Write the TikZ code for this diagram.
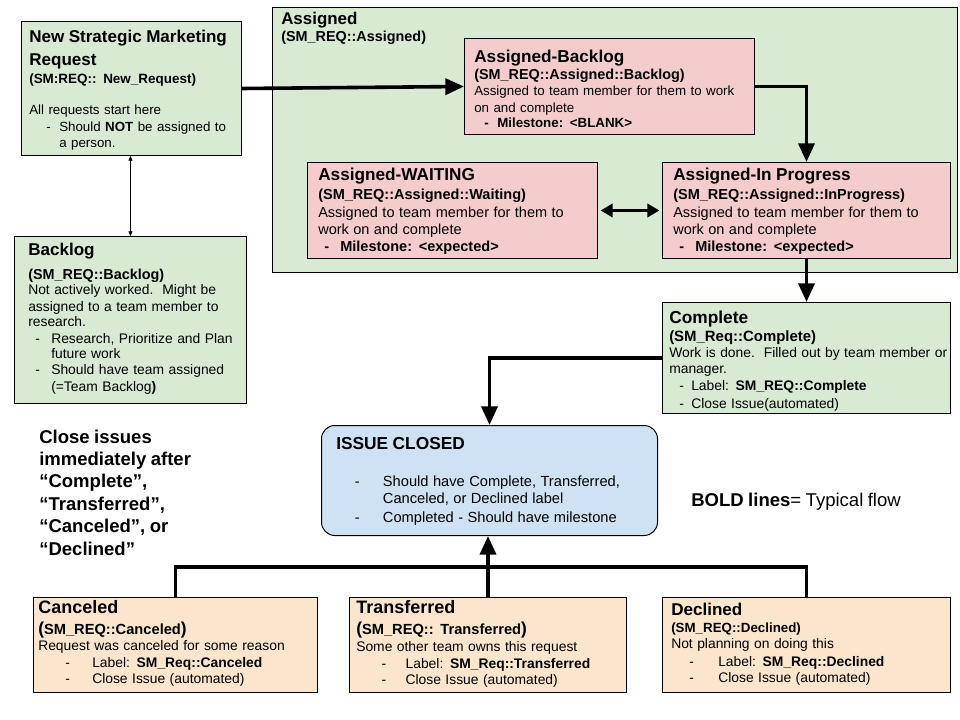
\documentclass[tikz,border=0pt]{standalone}
\usepackage{fontspec}
\setmainfont{Liberation Sans}
\usetikzlibrary{arrows.meta}
\definecolor{gfill}{HTML}{D9EAD3}
\definecolor{rfill}{HTML}{F4CCCC}
\definecolor{bfill}{HTML}{CFE2F3}
\definecolor{ofill}{HTML}{FCE5CD}
\newcommand\txl[3]{{\fontsize{#1}{#2}\selectfont #3\par}}
\newcommand\dashln[3]{\makebox[#2][l]{\hspace*{#1}-}#3}
\newcommand\bigpar[1]{{\fontsize{13}{13}\selectfont #1}}
\begin{document}
\begin{tikzpicture}[x=0.75pt,y=-0.75pt,
  boxshape/.style={draw=black, line width=0.75pt, rectangle, inner sep=0pt, anchor=north west},
  gbox/.style={boxshape, fill=gfill},
  rbox/.style={boxshape, fill=rfill},
  obox/.style={boxshape, fill=ofill},
  cbox/.style={boxshape, fill=bfill, rounded corners=10pt},
  txt/.style={anchor=base west, inner sep=0pt, text width=#1, align=left},
  flow/.style={line width=2.7pt, -{Triangle[length=14pt,width=12pt]}},
  flowline/.style={line width=2.7pt},
  dflow/.style={line width=1.9pt, {Triangle[length=9pt,width=10pt]}-{Triangle[length=9pt,width=10pt]}, shorten <=2pt, shorten >=2pt},
  thinarrow/.style={line width=0.6pt, {Triangle[length=3.5pt,width=3pt]}-{Triangle[length=3.5pt,width=3pt]}}
]
\fill[white] (0,0) rectangle (960,720);
\useasboundingbox (0,0) rectangle (960,720);

% boxes
\node[gbox, minimum width=513.75pt, minimum height=198.75pt] (assigned) at (272,7) {};
\node[gbox, minimum width=165pt, minimum height=100.5pt] (new) at (21,21) {};
\node[gbox, minimum width=174pt, minimum height=125.25pt] (backlog) at (14,236) {};
\node[rbox, minimum width=217.5pt, minimum height=72pt] (ab) at (464,38) {};
\node[rbox, minimum width=217.5pt, minimum height=72pt] (aw) at (307,162) {};
\node[rbox, minimum width=216pt, minimum height=72pt] (aip) at (662,162) {};
\node[gbox, minimum width=216pt, minimum height=83.25pt] (complete) at (662,302) {};
\node[cbox, minimum width=252pt, minimum height=82.5pt] (closed) at (321,425) {};
\node[obox, minimum width=213pt, minimum height=71.25pt] (canceled) at (33,597) {};
\node[obox, minimum width=207.75pt, minimum height=71.25pt] (transferred) at (349,597) {};
\node[obox, minimum width=216pt, minimum height=71.25pt] (declined) at (662,597) {};

% texts
\node[txt=160pt] (newt) at (29,43) {%
\txl{12.8}{0}{\bfseries New Strategic Marketing}%
\txl{12.8}{17.25}{\bfseries Request}%
\txl{10.1}{13.5}{\bfseries (SM:REQ:: New\_Request)}%
\txl{10}{23.25}{All requests start here}%
\txl{10}{12.75}{\dashln{12.75pt}{22.5pt}{Should \textbf{NOT} be assigned to}}%
\txl{10}{12}{\hspace*{22.5pt}a person.}};

\node[txt=170pt] (backlogt) at (28,256) {%
\txl{12.8}{0}{\bfseries Backlog}%
\txl{10.8}{18}{\bfseries (SM\_REQ::Backlog)}%
\txl{10.4}{11.25}{Not actively worked.\ \ Might be}%
\txl{10.4}{12.75}{assigned to a team member to}%
\txl{10.4}{11.25}{research.}%
\txl{10.4}{12.75}{\dashln{5.25pt}{17.25pt}{Research, Prioritize and Plan}}%
\txl{10.4}{11.25}{\hspace*{17.25pt}future work}%
\txl{10.4}{12}{\dashln{5.25pt}{17.25pt}{Should have team assigned}}%
\txl{10.4}{12.75}{\hspace*{17.25pt}(=Team Backlog\textbf{)}}};

\node[txt=200pt] (assignedt) at (281,24.5) {%
\txl{12.7}{0}{\bfseries Assigned}%
\txl{10.8}{12.75}{\bfseries (SM\_REQ::Assigned)}};

\node[txt=210pt] (abt) at (474,62.5) {%
\txl{12.9}{0}{\bfseries Assigned-Backlog}%
\txl{10.8}{12.75}{\bfseries (SM\_REQ::Assigned::Backlog)}%
\txl{10}{12}{Assigned to team member for them to work}%
\txl{10}{12.75}{on and complete}%
\txl{10}{11.25}{\bfseries\dashln{7.5pt}{17.25pt}{Milestone: <BLANK>}}};

\node[txt=210pt] (awt) at (318,180.5) {%
\txl{12.9}{0}{\bfseries Assigned-WAITING}%
\txl{10.9}{14.25}{\bfseries (SM\_REQ::Assigned::Waiting)}%
\txl{10.9}{13.5}{Assigned to team member for them to}%
\txl{10.9}{13}{work on and complete}%
\txl{10.9}{12.75}{\bfseries\dashln{4.5pt}{16.5pt}{Milestone: <expected>}}};

\node[txt=210pt] (aipt) at (673,180.5) {%
\txl{12.9}{0}{\bfseries Assigned-In Progress}%
\txl{10.9}{14.25}{\bfseries (SM\_REQ::Assigned::InProgress)}%
\txl{10.9}{13.5}{Assigned to team member for them to}%
\txl{10.9}{13}{work on and complete}%
\txl{10.9}{12.75}{\bfseries\dashln{4.5pt}{16.5pt}{Milestone: <expected>}}};

\node[txt=212pt] (completet) at (669,323) {%
\txl{13}{0}{\bfseries Complete}%
\txl{11.2}{13.5}{\bfseries (SM\_Req::Complete)}%
\txl{10.4}{12}{Work is done.\ \ Filled out by team member or}%
\txl{10.4}{12.75}{manager.}%
\txl{10.4}{12.75}{\dashln{7.5pt}{16.5pt}{Label: \textbf{SM\_REQ::Complete}}}%
\txl{10.4}{12.75}{\dashln{7.5pt}{16.5pt}{Close Issue(automated)}}};

\node[txt=240pt] (closedt) at (336,449) {%
\txl{13}{0}{\bfseries ISSUE CLOSED}%
\txl{11}{27.75}{\dashln{14pt}{35pt}{Should have Complete, Transferred,}}%
\txl{11}{13.25}{\hspace*{35pt}Canceled, or Declined label}%
\txl{11}{13.75}{\dashln{14pt}{35pt}{Completed - Should have milestone}}};

\node[txt=210pt] (canceledt) at (38,613) {%
\txl{13.5}{0}{\bfseries Canceled}%
\txl{11}{15.75}{\bfseries\bigpar{(}SM\_REQ::Canceled\bigpar{)}}%
\txl{10.4}{12}{Request was canceled for some reason}%
\txl{10.4}{12.75}{\dashln{20.25pt}{40.5pt}{Label: \textbf{SM\_Req::Canceled}}}%
\txl{10.4}{12}{\dashln{20.25pt}{40.5pt}{Close Issue (automated)}}};

\node[txt=205pt] (transferredt) at (356,613) {%
\txl{13.5}{0}{\bfseries Transferred}%
\txl{11}{15.75}{\bfseries\bigpar{(}SM\_REQ:: Transferred\bigpar{)}}%
\txl{10.4}{12.75}{Some other team owns this request}%
\txl{10.4}{12.75}{\dashln{19pt}{37pt}{Label: \textbf{SM\_Req::Transferred}}}%
\txl{10.4}{12}{\dashln{19pt}{37pt}{Close Issue (automated)}}};

\node[txt=210pt] (declinedt) at (671,615) {%
\txl{12.8}{0}{\bfseries Declined}%
\txl{10}{12.75}{\bfseries (SM\_REQ::Declined)}%
\txl{10.4}{12}{Not planning on doing this}%
\txl{10.4}{13.5}{\dashln{13.5pt}{35.25pt}{Label: \textbf{SM\_Req::Declined}}}%
\txl{10.4}{12}{\dashln{13.5pt}{35.25pt}{Close Issue (automated)}}};

\node[txt=200pt] (notet) at (39,443) {%
\txl{13.9}{0}{\bfseries Close issues}%
\txl{13.9}{16.8}{\bfseries immediately after}%
\txl{13.9}{16.8}{\bfseries “Complete”,}%
\txl{13.9}{16.8}{\bfseries “Transferred”,}%
\txl{13.9}{16.8}{\bfseries “Canceled”, or}%
\txl{13.9}{16.8}{\bfseries “Declined”}};

\node[txt=200pt] (legendt) at (691,506) {\txl{13.9}{0}{\textbf{BOLD lines}= Typical flow}};

% connectors
\coordinate (busy) at (0,567);
\draw[thinarrow] (backlog.north) -- (backlog.north |- new.south);
\draw[flow] (new.east) -- (ab.west);
\draw[flow] (ab.east) -| (aip.north);
\draw[dflow] (aw.east) -- (aip.west);
\draw[flow] (aip.south) -- (complete.north);
\draw[flow] (complete.west) -| (closed.north);
\draw[flowline] (canceled.north) -- (canceled.north |- busy) -- (declined.north |- busy) -- (declined.north);
\draw[flow] (transferred.north) -- (transferred.north |- closed.south);
\end{tikzpicture}
\end{document}
